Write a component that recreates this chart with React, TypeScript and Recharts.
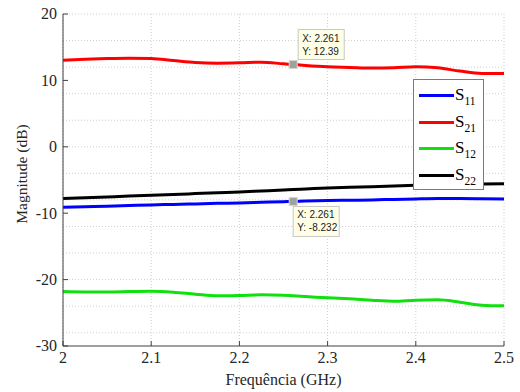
import { LineChart, Line, XAxis, YAxis, CartesianGrid, Legend, ReferenceDot } from 'recharts';

// frequency samples (GHz) and S-parameter magnitudes (dB)
const freq = [2.0, 2.025, 2.05, 2.075, 2.1, 2.125, 2.15, 2.175, 2.2, 2.225, 2.25, 2.261, 2.275, 2.3, 2.325, 2.35, 2.375, 2.4, 2.425, 2.45, 2.475, 2.5];
const s11 = [-9.1, -9.02, -8.95, -8.85, -8.75, -8.68, -8.6, -8.52, -8.45, -8.36, -8.27, -8.232, -8.18, -8.1, -8.05, -8.0, -7.92, -7.85, -7.8, -7.8, -7.82, -7.85];
const s21 = [13.05, 13.2, 13.3, 13.35, 13.3, 13.0, 12.7, 12.6, 12.65, 12.75, 12.5, 12.39, 12.25, 12.05, 11.95, 11.85, 11.9, 12.05, 11.9, 11.4, 11.05, 11.05];
const s12 = [-21.8, -21.85, -21.85, -21.8, -21.75, -21.9, -22.2, -22.45, -22.4, -22.3, -22.35, -22.45, -22.55, -22.75, -22.9, -23.1, -23.25, -23.1, -23.05, -23.4, -23.85, -23.95];
const s22 = [-7.8, -7.68, -7.55, -7.42, -7.3, -7.18, -7.05, -6.92, -6.8, -6.65, -6.5, -6.43, -6.35, -6.2, -6.1, -6.0, -5.9, -5.8, -5.72, -5.65, -5.6, -5.55];

const xTicks = [2, 2.1, 2.2, 2.3, 2.4, 2.5];
const yTicks = [-30, -20, -10, 0, 10, 20];

// data tips
const tipX = 2.261;
const tipS21 = 12.39;
const tipS11 = -8.232;

const series = [
  { key: 's11', sub: '11', color: '#0000ff' },
  { key: 's21', sub: '21', color: '#ff0000' },
  { key: 's12', sub: '12', color: '#10e010' },
  { key: 's22', sub: '22', color: '#000000' },
];

const data = freq.map((f, i) => ({ f, s11: s11[i], s21: s21[i], s12: s12[i], s22: s22[i] }));

// minor grid: 2 dB and 1/70 GHz
const gridY: number[] = [];
for (let v = -30; v <= 20; v += 2) gridY.push(v);
const gridX: number[] = [];
for (let i = 0; i <= 35; i++) gridX.push(2 + i / 70);

const serif = '"Liberation Serif", "Times New Roman", serif';

function XTick({ x, y, payload }: any) {
  return (
    <text x={x} y={y} dy="0.72em" textAnchor="middle" fontSize={16} fontFamily={serif} fill="#262626">
      {payload.value}
    </text>
  );
}

function YTick({ x, y, payload }: any) {
  return (
    <text x={x} y={y} dy="0.34em" textAnchor="end" fontSize={16} fontFamily={serif} fill="#262626">
      {payload.value}
    </text>
  );
}

function DataTip(props: any) {
  const { cx, cy, lines, below } = props;
  const bx = below ? cx : cx + 5;
  const by = below ? cy + 5 : cy - 35;
  return (
    <g>
      <rect x={cx - 4} y={cy - 4} width={8} height={8} fill="#a0a0a0" stroke="#d8d8c8" strokeWidth={1} />
      <rect x={bx} y={by} width={46} height={30} fill="#ffffe8" stroke="#c8c8c0" strokeWidth={1} />
      {lines.map((t: string, i: number) => (
        <text key={i} x={bx + 4} y={by + 12 + i * 13} fontSize={10} fontFamily='"Liberation Sans", Arial, sans-serif' fill="#202020">
          {t}
        </text>
      ))}
    </g>
  );
}

function LegendBox() {
  return (
    <div style={{ width: 71, height: 111, boxSizing: 'border-box', border: '1px solid #7a7a7a', background: '#fff', paddingTop: 2 }}>
      {series.map((s) => (
        <div key={s.key} style={{ height: 26.7, display: 'flex', alignItems: 'center', fontFamily: serif }}>
          <div style={{ width: 35, height: 3, background: s.color, marginLeft: 5 }} />
          <span style={{ fontSize: 17, color: '#000', marginLeft: 1, lineHeight: '17px' }}>
            S<span style={{ fontSize: 11.5, position: 'relative', top: 5 }}>{s.sub}</span>
          </span>
        </div>
      ))}
    </div>
  );
}

export default function App() {
  return (
    <div style={{ position: 'absolute', left: 0, top: 0, width: 520, height: 392, background: '#fff' }}>
      <LineChart width={520} height={392} data={data} margin={{ top: 14, right: 16, bottom: 0, left: 0 }}>
        <CartesianGrid horizontalValues={gridY} verticalValues={gridX} stroke="#cfcfcf" strokeDasharray="1 2" />
        <XAxis
          dataKey="f"
          type="number"
          domain={[2, 2.5]}
          ticks={xTicks}
          height={46}
          tickSize={-5}
          tickMargin={10}
          tick={<XTick />}
          stroke="#404040"
          allowDataOverflow
          label={{
            content: ({ viewBox }: any) => (
              <text x={viewBox.x + viewBox.width / 2} y={viewBox.y + 39} textAnchor="middle" fontSize={16} fontFamily={serif} fill="#262626">
                Frequência (GHz)
              </text>
            ),
          }}
        />
        <XAxis xAxisId="top" orientation="top" type="number" domain={[2, 2.5]} ticks={xTicks} height={0} tickSize={-5} tick={false} stroke="#404040" />
        <YAxis
          type="number"
          domain={[-30, 20]}
          ticks={yTicks}
          width={63}
          tickSize={-5}
          tickMargin={11}
          tick={<YTick />}
          stroke="#404040"
          allowDataOverflow
          label={{
            content: ({ viewBox }: any) => {
              const x = viewBox.x + 21;
              const y = viewBox.y + viewBox.height / 2 - 6;
              return (
                <text x={x} y={y} transform={`rotate(-90 ${x} ${y})`} textAnchor="middle" dominantBaseline="central" fontSize={15.5} fontFamily={serif} fill="#262626">
                  Magnitude (dB)
                </text>
              );
            },
          }}
        />
        <YAxis yAxisId="right" orientation="right" type="number" domain={[-30, 20]} ticks={yTicks} width={0} tickSize={-5} tick={false} stroke="#404040" />
        {series.map((s) => (
          <Line key={s.key} dataKey={s.key} type="monotone" stroke={s.color} strokeWidth={3} dot={false} isAnimationActive={false} />
        ))}
        <ReferenceDot x={tipX} y={tipS21} shape={(p: any) => <DataTip {...p} lines={[`X: ${tipX}`, `Y: ${tipS21}`]} />} />
        <ReferenceDot x={tipX} y={tipS11} shape={(p: any) => <DataTip {...p} below lines={[`X: ${tipX}`, `Y: ${tipS11}`]} />} />
        <Legend layout="vertical" align="center" verticalAlign="middle" wrapperStyle={{ left: 413, top: 79, width: 71, height: 111 }} content={() => <LegendBox />} />
      </LineChart>
    </div>
  );
}
